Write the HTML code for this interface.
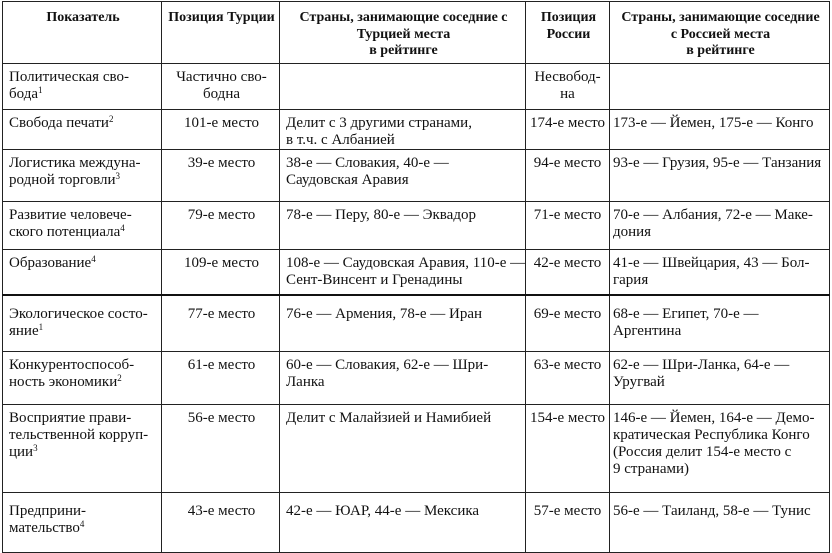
<!DOCTYPE html>
<html><head><meta charset="utf-8"><style>
body{margin:0;background:#fff;width:832px;height:552px;overflow:hidden}
table{position:absolute;left:2px;top:1px;width:827px;border-collapse:collapse;table-layout:fixed;font-family:"Liberation Serif",serif;font-size:15px;line-height:17px;color:#111}
td,th{border:1px solid #222;vertical-align:top;padding:5px 4px 0 6px;white-space:nowrap;overflow:hidden}
th{font-weight:bold;text-align:center;padding-top:8px;font-size:14px;line-height:16.5px}
.c{text-align:center}
.n{padding-left:1px;padding-right:1px}
sup{font-size:9px;line-height:0;vertical-align:5px}
tr.thick td{border-bottom:2px solid #111}
</style></head><body>
<table>
<colgroup><col style="width:159px"><col style="width:118px"><col style="width:246px"><col style="width:84px"><col style="width:220px"></colgroup>
<tr style="height:62px"><th>Показатель</th><th>Позиция Турции</th><th>Страны, занимающие соседние с<br>Турцией места<br>в рейтинге</th><th>Позиция<br>России</th><th>Страны, занимающие соседние<br>с Россией места<br>в рейтинге</th></tr>
<tr style="height:46px"><td>Политическая сво-<br>бода<sup>1</sup></td><td class="c">Частично сво-<br>бодна</td><td></td><td class="c n">Несвобод-<br>на</td><td></td></tr>
<tr style="height:35px"><td>Свобода печати<sup>2</sup></td><td class="c">101-е место</td><td>Делит с 3 другими странами,<br>в т.ч. с Албанией</td><td class="c n">174-е место</td><td style="padding-left:3px">173-е — Йемен, 175-е — Конго</td></tr>
<tr style="height:52px"><td>Логистика междуна-<br>родной торговли<sup>3</sup></td><td class="c">39-е место</td><td>38-е — Словакия, 40-е —<br>Саудовская Аравия</td><td class="c n">94-е место</td><td style="padding-left:3px">93-е — Грузия, 95-е — Танзания</td></tr>
<tr style="height:48px"><td>Развитие человече-<br>ского потенциала<sup>4</sup></td><td class="c">79-е место</td><td>78-е — Перу, 80-е — Эквадор</td><td class="c n">71-е место</td><td style="padding-left:3px">70-е — Албания, 72-е — Маке-<br>дония</td></tr>
<tr class="thick" style="height:45px"><td>Образование<sup>4</sup></td><td class="c">109-е место</td><td>108-е — Саудовская Аравия, 110-е —<br>Сент-Винсент и Гренадины</td><td class="c n">42-е место</td><td style="padding-left:3px">41-е — Швейцария, 43 — Бол-<br>гария</td></tr>
<tr style="height:57px"><td style="padding-top:10px">Экологическое состо-<br>яние<sup>1</sup></td><td class="c" style="padding-top:10px">77-е место</td><td style="padding-top:10px">76-е — Армения, 78-е — Иран</td><td class="c n" style="padding-top:10px">69-е место</td><td style="padding-top:10px;padding-left:3px">68-е — Египет, 70-е —<br>Аргентина</td></tr>
<tr style="height:53px"><td>Конкурентоспособ-<br>ность экономики<sup>2</sup></td><td class="c">61-е место</td><td>60-е — Словакия, 62-е — Шри-<br>Ланка</td><td class="c n">63-е место</td><td style="padding-left:3px">62-е — Шри-Ланка, 64-е —<br>Уругвай</td></tr>
<tr style="height:88px"><td>Восприятие прави-<br>тельственной корруп-<br>ции<sup>3</sup></td><td class="c">56-е место</td><td>Делит с Малайзией и Намибией</td><td class="c n">154-е место</td><td style="padding-left:3px">146-е — Йемен, 164-е — Демо-<br>кратическая Республика Конго<br>(Россия делит 154-е место с<br>9 странами)</td></tr>
<tr style="height:60px"><td style="padding-top:10px">Предприни-<br>мательство<sup>4</sup></td><td class="c" style="padding-top:10px">43-е место</td><td style="padding-top:10px">42-е — ЮАР, 44-е — Мексика</td><td class="c n" style="padding-top:10px">57-е место</td><td style="padding-top:10px;padding-left:3px">56-е — Таиланд, 58-е — Тунис</td></tr>
</table>
</body></html>
